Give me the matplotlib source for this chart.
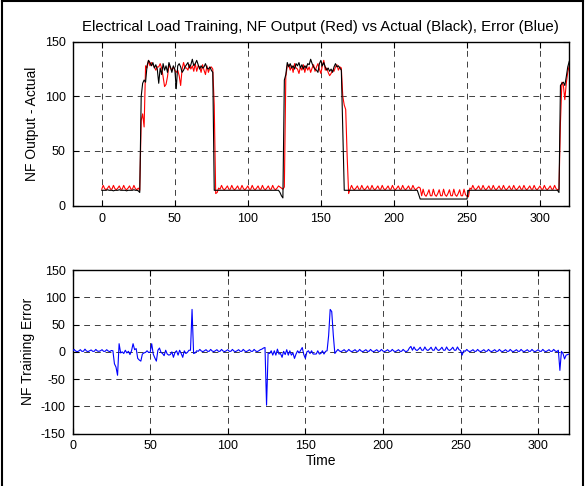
import numpy as np
import matplotlib
matplotlib.use("Agg")
import matplotlib.pyplot as plt
from matplotlib.lines import Line2D

# NF output (red), one value per time step, t = 0..320
nf_output = [
    15, 18.5, 15.5, 14.5, 16, 18, 15, 15, 18.5, 15.5,            # 0
    14.5, 16, 18, 15, 15, 18.5, 15.5, 14.5, 16, 18,              # 10
    15, 15, 18.5, 15.5, 14.5, 16, 14, 78, 84, 72,                # 20
    128, 126, 133, 128, 131, 129, 127, 124, 127, 127,            # 30
    130, 126, 118, 109, 111, 118, 129, 126, 124, 127,            # 40
    124, 122, 124, 119, 110, 125, 131, 126, 126, 124,            # 50
    129, 125, 128, 123, 130, 123, 128, 127, 122, 129,            # 60
    124, 120, 128, 122, 126, 127, 125, 92, 11, 12,               # 70
    16, 15, 18.5, 15.5, 14.5, 16, 18, 15, 15, 18.5,              # 80
    15.5, 14.5, 16, 18, 15, 15, 18.5, 15.5, 14.5, 16,            # 90
    18, 15, 15, 18.5, 15.5, 14.5, 16, 18, 15, 15,                # 100
    18.5, 15.5, 14.5, 16, 18, 15, 15, 18.5, 15.5, 14.5,          # 110
    16, 18, 17, 16, 15, 17, 118, 128, 129, 124,                  # 120
    128, 122, 130, 126, 125, 121, 127, 124, 129, 122,            # 130
    128, 124, 127, 122, 126, 129, 123, 127, 130, 125,            # 140
    121, 128, 133, 124, 126, 122, 119, 121, 124, 123,            # 150
    127, 129, 124, 127, 126, 100, 92, 88, 45, 11,                # 160
    15, 18.5, 15.5, 14.5, 16, 18, 15, 15, 18.5, 15.5,            # 170
    14.5, 16, 18, 15, 15, 18.5, 15.5, 14.5, 16, 18,              # 180
    15, 15, 18.5, 15.5, 14.5, 16, 18, 15, 15, 18.5,              # 190
    15.5, 14.5, 16, 18, 15, 15, 18.5, 15.5, 14.5, 16,            # 200
    18, 15, 15, 18.5, 15.5, 14.5, 16, 17, 16, 9,                 # 210
    15, 10, 8.5, 11, 14.5, 9, 9, 15, 10, 8.5,                    # 220
    11, 14.5, 9, 9, 15, 10, 8.5, 11, 14.5, 9,                    # 230
    9, 15, 10, 8.5, 11, 14.5, 9, 9, 15, 10,                      # 240
    8.5, 8, 16, 15, 18.5, 15.5, 14.5, 16, 18, 15,                # 250
    15, 18.5, 15.5, 14.5, 16, 18, 15, 15, 18.5, 15.5,            # 260
    14.5, 16, 18, 15, 15, 18.5, 15.5, 14.5, 16, 18,              # 270
    15, 15, 18.5, 15.5, 14.5, 16, 18, 15, 15, 18.5,              # 280
    15.5, 14.5, 16, 18, 15, 15, 18.5, 15.5, 14.5, 16,            # 290
    18, 15, 15, 18.5, 15.5, 14.5, 16, 18, 15, 15,                # 300
    18.5, 15.5, 14.5, 15, 76, 113, 110, 97, 112, 122,            # 310
    128,                                                         # 320
]

# actual electrical load (black)
actual = [
    14, 14, 14, 14, 14.5, 14, 14, 14, 13.5, 14,                  # 0
    14, 14, 14.5, 14, 14, 14, 14, 13.5, 14, 14,                  # 10
    14, 14, 14.5, 14, 14, 13.5, 12, 100, 112, 115,               # 20
    113, 128, 133, 131, 128, 131, 126, 129, 125, 112,            # 30
    126, 120, 130, 124, 128, 122, 131, 127, 122, 128,            # 40
    125, 107, 128, 130, 127, 122, 124, 127, 129, 131,            # 50
    126, 129, 134, 128, 130, 133, 129, 125, 128, 126,            # 60
    127, 130, 126, 125, 127, 124, 122, 14, 14, 14,               # 70
    14, 14, 14, 14, 14, 14, 14, 14, 14, 14,                      # 80
    14, 14, 14, 14, 14, 14, 14, 14, 14, 14,                      # 90
    14, 14, 14, 14, 14, 14, 14, 14, 14, 14,                      # 100
    14, 14, 14, 14, 14, 14, 14, 14, 14, 14,                      # 110
    14, 14, 12, 9, 7, 115, 120, 131, 127, 130,                   # 120
    126, 128, 125, 130, 128, 131, 126, 129, 125, 128,            # 130
    126, 130, 129, 134, 130, 127, 125, 124, 122, 130,            # 140
    133, 128, 131, 127, 124, 126, 123, 125, 122, 127,            # 150
    130, 127, 128, 126, 124, 70, 14, 14, 14, 14,                 # 160
    14, 14, 14, 14, 14, 14, 14, 14, 14, 14,                      # 170
    14, 14, 14, 14, 14, 14, 14, 14, 14, 14,                      # 180
    14, 14, 14, 14, 14, 14, 14, 14, 14, 14,                      # 190
    14, 14, 14, 14, 14, 14, 14, 14, 14, 14,                      # 200
    14, 14, 14, 14, 14, 14, 14, 10, 6, 6,                        # 210
    6, 6, 6, 6, 6, 6, 6, 6, 6, 6,                                # 220
    6, 6, 6, 6, 6, 6, 6, 6, 6, 6,                                # 230
    6, 6, 6, 6, 6, 6, 6, 6, 6, 6,                                # 240
    6, 14, 14, 14, 14, 14, 14, 14, 14, 14,                       # 250
    14, 14, 14, 14, 14, 14, 14, 14, 14, 14,                      # 260
    14, 14, 14, 14, 14, 14, 14, 14, 14, 14,                      # 270
    14, 14, 14, 14, 14, 14, 14, 14, 14, 14,                      # 280
    14, 14, 14, 14, 14, 14, 14, 14, 14, 14,                      # 290
    14, 14, 14, 14, 14, 14, 14, 14, 14, 14,                      # 300
    14, 14, 14, 12, 110, 112, 113, 110, 118, 127,                # 310
    132,                                                         # 320
]

# training error (blue), NF output minus actual
train_error = [
    1, 4.5, 1.5, 0.5, 1.5, 4, 1, 1, 5, 1.5,                      # 0
    0.5, 2, 3.5, 1, 1, 4.5, 1.5, 1, 2, 4,                        # 10
    1, 1, 4, 1.5, 0.5, 2.5, 2, -22, -28, -43,                    # 20
    15, -2, 0, -3, 3, -2, 1, -5, 2, 15,                          # 30
    4, 6, -12, -15, -17, -4, -2, -1, 2, -1,                      # 40
    -1, 15, -4, -11, -17, 3, 7, -1, -3, -7,                      # 50
    3, -4, -6, -5, 0, -10, -1, 2, -6, 3,                         # 60
    -3, -10, 2, -3, -1, 3, 3, 78, -3, -2,                        # 70
    2, 1, 4.5, 1.5, 0.5, 2, 4, 1, 1, 4.5,                        # 80
    1.5, 0.5, 2, 4, 1, 1, 4.5, 1.5, 0.5, 2,                      # 90
    4, 1, 1, 4.5, 1.5, 0.5, 2, 4, 1, 1,                          # 100
    4.5, 1.5, 0.5, 2, 4, 1, 1, 4.5, 1.5, 0.5,                    # 110
    2, 4, 5, 7, 8, -98, -2, -3, 2, -6,                           # 120
    2, -6, 5, -4, -3, -10, 1, -5, 4, -6,                         # 130
    2, -6, -2, -12, -4, 2, -2, 3, 8, -5,                         # 140
    -12, 0, 2, -3, 2, -4, -4, -4, 2, -4,                         # 150
    -3, 2, -4, 1, 2, 30, 78, 74, 31, -3,                         # 160
    1, 4.5, 1.5, 0.5, 2, 4, 1, 1, 4.5, 1.5,                      # 170
    0.5, 2, 4, 1, 1, 4.5, 1.5, 0.5, 2, 4,                        # 180
    1, 1, 4.5, 1.5, 0.5, 2, 4, 1, 1, 4.5,                        # 190
    1.5, 0.5, 2, 4, 1, 1, 4.5, 1.5, 0.5, 2,                      # 200
    4, 1, 1, 4.5, 1.5, 0.5, 2, 7, 10, 3,                         # 210
    9, 4, 2.5, 5, 8.5, 3, 3, 9, 4, 2.5,                          # 220
    5, 8.5, 3, 3, 9, 4, 2.5, 5, 8.5, 3,                          # 230
    3, 9, 4, 2.5, 5, 8.5, 3, 3, 9, 4,                            # 240
    2.5, -6, 2, 1, 4.5, 1.5, 0.5, 2, 4, 1,                       # 250
    1, 4.5, 1.5, 0.5, 2, 4, 1, 1, 4.5, 1.5,                      # 260
    0.5, 2, 4, 1, 1, 4.5, 1.5, 0.5, 2, 4,                        # 270
    1, 1, 4.5, 1.5, 0.5, 2, 4, 1, 1, 4.5,                        # 280
    1.5, 0.5, 2, 4, 1, 1, 4.5, 1.5, 0.5, 2,                      # 290
    4, 1, 1, 4.5, 1.5, 0.5, 2, 4, 1, 1,                          # 300
    4.5, 1.5, 0.5, 3, -34, 1, -3, -13, -6, -5,                   # 310
    -4,                                                          # 320
]

title = "Electrical Load Training, NF Output (Red) vs Actual (Black), Error (Blue)"

plt.rcParams['font.family'] = ['Liberation Sans', 'DejaVu Sans']
plt.rcParams['font.size'] = 9
plt.rcParams['axes.unicode_minus'] = False

fig = plt.figure(figsize=(5.85, 4.86), dpi=100)
ax1 = fig.add_axes([0.124, 0.577, 0.849, 0.337])
ax2 = fig.add_axes([0.124, 0.108, 0.849, 0.336])

t1 = np.arange(len(actual))
t2 = np.arange(len(train_error))

ax1.plot(t1, actual, color='k', lw=0.8, zorder=3)
ax1.plot(np.arange(len(nf_output)), nf_output, color='#ff0000', lw=0.8, zorder=2)
ax2.plot(t2, train_error, color='#0000ff', lw=0.8, zorder=3)

ax1.set_xlim(-20, 320)
ax1.set_ylim(0, 150)
ax1.set_xticks(np.arange(0, 301, 50))
ax1.set_yticks(np.arange(0, 151, 50))
ax1.set_ylabel('NF Output - Actual', fontsize=10)
ax1.set_title(title, pad=8, fontsize=10.8)

ax2.set_xlim(0, 320)
ax2.set_ylim(-150, 150)
ax2.set_xticks(np.arange(0, 301, 50))
ax2.set_yticks(np.arange(-150, 151, 50))
ax2.set_ylabel('NF Training Error', fontsize=10)
ax2.set_xlabel('Time', labelpad=1, fontsize=10)

for ax in (ax1, ax2):
    ax.grid(True, color='k', linestyle=(0, (6, 5)), lw=0.7, alpha=0.75)
    ax.tick_params(direction='in', top=True, right=True, length=4, width=0.8,
                   colors='k', labelsize=9, pad=5)
    for s in ax.spines.values():
        s.set_linewidth(1.0)
        s.set_color('k')

# figure frame (left, top, right)
fig.add_artist(Line2D([0.003, 0.003], [0, 0.997], transform=fig.transFigure, color='k', lw=1.5))
fig.add_artist(Line2D([0.003, 0.997], [0.997, 0.997], transform=fig.transFigure, color='k', lw=1.5))
fig.add_artist(Line2D([0.997, 0.997], [0, 0.997], transform=fig.transFigure, color='k', lw=1.5))

fig.savefig('out.png', dpi=100)
